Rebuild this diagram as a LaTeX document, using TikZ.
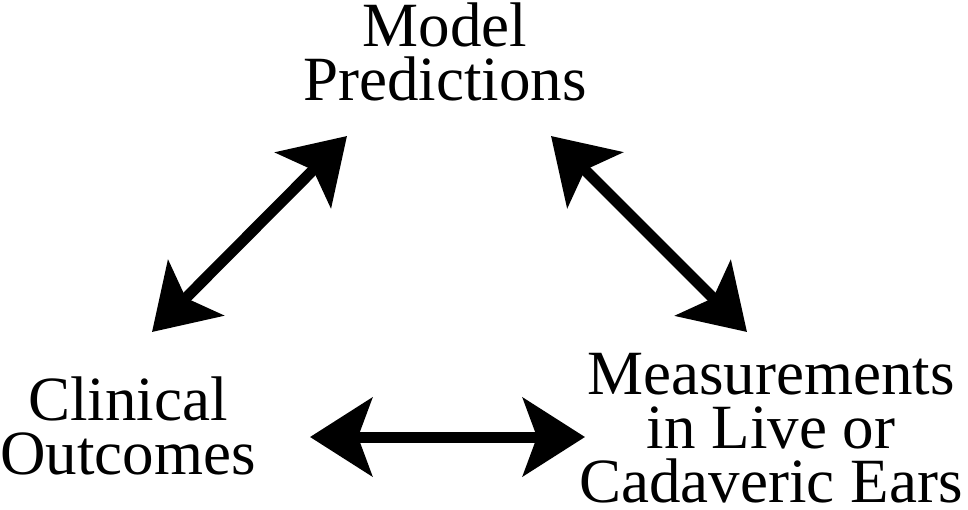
\documentclass[tikz,border=0pt]{standalone}
\usepackage{fontspec}
\setmainfont{Liberation Serif}
\usepackage{tikz}
\usetikzlibrary{arrows.meta}
\newcommand{\lablnode}[4]{\node[labl] (#1) at ( #2 , #3 ) {#4};}
\newcommand{\twoway}[2]{\draw[twoway] (#1) -- (#2);}

\begin{document}
\begin{tikzpicture}[x=1pt,y=-1pt,
  labl/.style={align=center,inner sep=0pt,font=\fontsize{63}{54}\selectfont},
  twoway/.style={line width=11pt,
    {Stealth[length=62pt,width=78pt,inset=14pt]}-{Stealth[length=62pt,width=78pt,inset=14pt]}}]
\useasboundingbox (0,0) rectangle (968,509);
% labels
\lablnode{model}{445}{52}{Model\\Predictions}
\lablnode{clin}{128}{426}{Clinical\\Outcomes}
\lablnode{meas}{771}{428}{Measurements\\in Live or\\Cadaveric Ears}
% arrow ends
\coordinate (model-l) at (347,136);
\coordinate (model-r) at (551,136);
\coordinate (clin-t) at (152,332);
\coordinate (clin-r) at (310,437);
\coordinate (meas-t) at (747,332);
\coordinate (meas-l) at (585,437);
% arrows
\twoway{clin-t}{model-l}
\twoway{model-r}{meas-t}
\twoway{clin-r}{meas-l}
\end{tikzpicture}
\end{document}
